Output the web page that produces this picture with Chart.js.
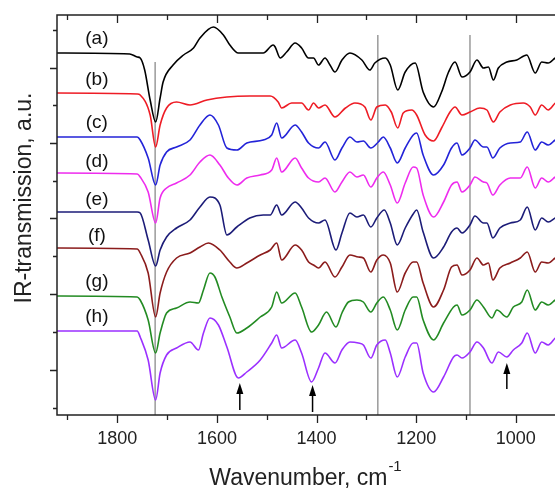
<!DOCTYPE html>
<html>
<head>
<meta charset="utf-8">
<script src="https://cdn.jsdelivr.net/npm/chart.js@4.4.1/dist/chart.umd.min.js"></script>
<style>
  html, body { margin: 0; padding: 0; background: #fff; }
  #wrap { width: 555px; height: 488px; overflow: hidden; }
</style>
</head>
<body>
<div id="wrap"><canvas id="irChart" width="600" height="488"></canvas></div>
<script>
// data (wavenumber cm-1, transmission a.u. incl. vertical offset)
const specA = [[1921,362],[1775,361],[1760,358],[1754,357],[1745,345],[1734,315],[1723,293],[1714,317],[1708,333],[1688,350],[1667,360],[1647,367],[1634,377],[1607,388],[1587,380],[1574,370],[1557,362],[1534,362],[1507,362],[1487,370],[1483,368],[1473,357],[1460,363],[1443,372],[1430,367],[1416,357],[1406,357],[1396,350],[1383,357],[1373,350],[1363,343],[1349,355],[1333,362],[1309,355],[1293,345],[1283,352],[1262,357],[1252,350],[1237,325],[1222,343],[1202,352],[1186,323],[1165,308],[1149,323],[1135,343],[1122,353],[1108,338],[1092,343],[1078,355],[1065,347],[1055,348],[1045,335],[1035,347],[1018,353],[998,355],[978,360],[961,342],[948,353],[935,352],[921,357]];
const specB = [[1921,322],[1760,321],[1754,320],[1734,300],[1723,268],[1714,290],[1701,307],[1681,313],[1654,310],[1620,315],[1580,318],[1534,319],[1493,319],[1477,313],[1470,307],[1450,312],[1430,312],[1416,305],[1406,312],[1396,307],[1383,310],[1363,298],[1342,307],[1323,312],[1303,308],[1291,295],[1279,308],[1262,310],[1250,303],[1237,287],[1226,302],[1209,305],[1199,300],[1182,280],[1165,274],[1149,287],[1132,303],[1122,308],[1108,300],[1092,303],[1072,307],[1058,305],[1045,293],[1032,303],[1011,310],[985,312],[971,308],[961,300],[948,310],[935,305],[921,312]];
const specC = [[1921,278],[1760,278],[1754,275],[1738,257],[1723,230],[1714,250],[1701,263],[1681,268],[1654,275],[1634,290],[1614,300],[1597,290],[1580,267],[1560,265],[1540,272],[1507,275],[1490,280],[1480,292],[1470,277],[1443,290],[1430,283],[1416,272],[1396,267],[1383,273],[1363,255],[1349,267],[1333,278],[1319,273],[1306,274],[1291,267],[1276,273],[1266,278],[1252,267],[1238,252],[1222,267],[1206,280],[1199,282],[1186,260],[1165,240],[1145,250],[1129,267],[1118,272],[1108,260],[1092,267],[1082,275],[1065,268],[1058,268],[1046,257],[1032,267],[1011,272],[991,273],[977,283],[961,265],[948,273],[935,270],[921,275]];
const specD = [[1921,242],[1760,241],[1754,238],[1738,223],[1723,192],[1714,217],[1701,227],[1681,232],[1654,240],[1634,253],[1614,260],[1594,250],[1577,237],[1560,230],[1540,237],[1513,240],[1490,245],[1480,257],[1470,243],[1443,257],[1430,247],[1416,237],[1396,233],[1383,237],[1363,223],[1349,233],[1333,243],[1319,238],[1306,240],[1291,228],[1279,237],[1266,243],[1252,230],[1238,212],[1222,232],[1206,248],[1199,247],[1186,220],[1165,198],[1145,213],[1129,230],[1118,233],[1108,223],[1092,230],[1082,238],[1065,233],[1058,232],[1046,220],[1032,230],[1011,237],[991,237],[977,248],[961,227],[948,237],[935,233],[921,238]];
const specE = [[1921,203],[1760,203],[1754,202],[1738,175],[1723,149],[1714,165],[1701,178],[1681,187],[1654,195],[1634,208],[1614,218],[1594,210],[1580,180],[1560,188],[1534,197],[1507,200],[1493,200],[1480,210],[1470,200],[1443,213],[1430,207],[1416,197],[1396,192],[1383,195],[1361,165],[1349,182],[1333,202],[1319,198],[1306,200],[1291,188],[1279,197],[1264,205],[1252,192],[1238,170],[1222,187],[1206,201],[1199,205],[1186,183],[1165,157],[1145,168],[1129,183],[1118,187],[1108,182],[1092,190],[1082,199],[1065,192],[1058,192],[1046,177],[1032,187],[1011,192],[991,195],[977,208],[961,185],[948,197],[935,193],[921,197]];
const specF = [[1921,167],[1760,166],[1754,162],[1738,142],[1723,98],[1714,122],[1701,143],[1681,157],[1654,162],[1634,168],[1617,172],[1594,165],[1574,153],[1560,147],[1540,152],[1513,160],[1493,165],[1480,172],[1470,155],[1443,170],[1430,165],[1416,153],[1406,150],[1396,147],[1383,153],[1363,138],[1349,148],[1333,160],[1316,158],[1306,157],[1291,143],[1279,155],[1266,160],[1252,152],[1238,123],[1222,142],[1206,153],[1199,153],[1186,132],[1165,108],[1145,125],[1129,148],[1118,150],[1108,140],[1092,145],[1078,157],[1065,150],[1055,152],[1046,135],[1032,147],[1011,152],[991,157],[977,163],[961,143],[948,153],[935,152],[921,157]];
const specG = [[1921,119],[1760,118],[1754,115],[1738,95],[1723,62],[1714,82],[1701,102],[1681,107],[1654,113],[1637,112],[1627,125],[1614,142],[1604,138],[1590,118],[1574,98],[1560,82],[1540,87],[1513,98],[1490,108],[1480,123],[1470,112],[1443,122],[1430,108],[1410,83],[1396,90],[1380,103],[1361,88],[1349,102],[1336,113],[1319,115],[1306,113],[1291,103],[1279,112],[1266,118],[1252,105],[1238,85],[1222,105],[1206,118],[1199,118],[1186,95],[1165,75],[1145,92],[1125,108],[1118,110],[1108,100],[1092,105],[1078,115],[1065,108],[1048,97],[1038,105],[1018,98],[1005,108],[988,113],[977,125],[961,105],[948,113],[935,110],[921,115]];
const specH = [[1921,84],[1760,84],[1754,78],[1738,55],[1723,15],[1714,42],[1701,60],[1681,67],[1654,73],[1637,65],[1627,82],[1614,97],[1597,90],[1580,68],[1557,37],[1540,43],[1513,55],[1490,72],[1480,80],[1470,67],[1443,75],[1430,62],[1410,33],[1396,47],[1383,62],[1363,52],[1349,65],[1333,73],[1316,72],[1306,70],[1291,57],[1279,70],[1262,75],[1252,62],[1238,38],[1222,58],[1206,72],[1199,72],[1186,42],[1165,23],[1145,38],[1125,58],[1118,60],[1108,57],[1092,63],[1078,73],[1065,67],[1048,52],[1035,63],[1018,58],[1005,65],[988,72],[977,82],[961,62],[948,73],[935,70],[921,77]];

const seriesNames = ['(a)', '(b)', '(c)', '(d)', '(e)', '(f)', '(g)', '(h)'];
const seriesColors = ['#000000', '#ee1c25', '#2323d8', '#ee2cee', '#1c1c78', '#8b1c1c', '#238b23', '#9b30ff'];
const labelY = [376, 335, 292, 253, 215, 179, 133, 98];
const labelX = 1841;

// reference lines: wavenumber, top value
const refLineX = [1724, 1277, 1092];
const refLineTop = [353, 380, 380];

// arrows: wavenumber, tip, tail
const arrowX = [1554, 1408, 1018];
const arrowTip = [32, 30, 52];
const arrowTail = [5, 3, 26];

const majorTicks = [1800, 1600, 1400, 1200, 1000];
const minorTicks = [1900, 1700, 1500, 1300, 1100, 900];
const yTicks = [7, 45, 83, 121, 159, 197, 234, 272, 310, 347, 385];

const spectra = [specA, specB, specC, specD, specE, specF, specG, specH];

const datasets = spectra.map(function (s, i) {
    return {
        label: seriesNames[i],
        data: s.map(p => ({ x: p[0], y: p[1] })),
        borderColor: seriesColors[i],
        borderWidth: 1.6,
        pointRadius: 0,
        cubicInterpolationMode: 'monotone',
        fill: false
    };
});

refLineX.forEach(function (x, i) {
    datasets.push({
        label: 'ref' + i,
        data: [{ x: x, y: 0 }, { x: x, y: refLineTop[i] }],
        borderColor: '#9a9a9a',
        borderWidth: 1.5,
        pointRadius: 0
    });
});

const FONT = '"Liberation Sans", Arial, sans-serif';

// frame, ticks, labels, arrows, titles
const overlay = {
    id: 'overlay',
    afterDraw(chart) {
        const ctx = chart.ctx;
        const xs = chart.scales.x;
        const ys = chart.scales.y;
        const a = chart.chartArea;
        ctx.save();

        // frame
        ctx.strokeStyle = '#222';
        ctx.lineWidth = 1.5;
        ctx.beginPath();
        ctx.moveTo(a.right + 5, a.top);
        ctx.lineTo(a.left, a.top);
        ctx.lineTo(a.left, a.bottom);
        ctx.lineTo(a.right + 5, a.bottom);
        ctx.stroke();

        // x ticks, bottom outward, top inward
        ctx.lineWidth = 1.3;
        ctx.beginPath();
        majorTicks.forEach(function (t) {
            const px = Math.round(xs.getPixelForValue(t)) + 0.5;
            ctx.moveTo(px, a.bottom); ctx.lineTo(px, a.bottom + 8);
            ctx.moveTo(px, a.top); ctx.lineTo(px, a.top + 8);
        });
        minorTicks.forEach(function (t) {
            const px = Math.round(xs.getPixelForValue(t)) + 0.5;
            ctx.moveTo(px, a.bottom); ctx.lineTo(px, a.bottom + 5);
            ctx.moveTo(px, a.top); ctx.lineTo(px, a.top + 5);
        });
        // y ticks outward
        yTicks.forEach(function (t, i) {
            const py = Math.round(ys.getPixelForValue(t)) + 0.5;
            ctx.moveTo(a.left, py); ctx.lineTo(a.left - (i % 2 ? 7 : 4), py);
        });
        ctx.stroke();

        // curve labels
        ctx.fillStyle = '#111';
        ctx.font = '19px ' + FONT;
        ctx.textAlign = 'center';
        ctx.textBaseline = 'middle';
        seriesNames.forEach(function (n, i) {
            ctx.fillText(n, xs.getPixelForValue(labelX), ys.getPixelForValue(labelY[i]));
        });

        // arrows
        ctx.strokeStyle = '#000';
        ctx.fillStyle = '#000';
        ctx.lineWidth = 1.5;
        arrowX.forEach(function (w, i) {
            const px = xs.getPixelForValue(w);
            const tip = ys.getPixelForValue(arrowTip[i]);
            const tail = ys.getPixelForValue(arrowTail[i]);
            ctx.beginPath();
            ctx.moveTo(px, tail);
            ctx.lineTo(px, tip + 8);
            ctx.stroke();
            ctx.beginPath();
            ctx.moveTo(px, tip);
            ctx.lineTo(px - 3.5, tip + 11);
            ctx.lineTo(px + 3.5, tip + 11);
            ctx.closePath();
            ctx.fill();
        });

        // axis titles
        ctx.fillStyle = '#222';
        ctx.font = '23px ' + FONT;
        ctx.textAlign = 'left';
        ctx.textBaseline = 'alphabetic';
        const main = 'Wavenumber, cm';
        const w1 = ctx.measureText(main).width;
        ctx.font = '15px ' + FONT;
        const w2 = ctx.measureText('-1').width;
        const x0 = 305 - (w1 + w2) / 2;
        ctx.font = '23px ' + FONT;
        ctx.fillText(main, x0, 485);
        ctx.font = '15px ' + FONT;
        ctx.fillText('-1', x0 + w1 + 1, 471);

        ctx.translate(25, 198);
        ctx.rotate(-Math.PI / 2);
        ctx.font = '23px ' + FONT;
        ctx.textAlign = 'center';
        ctx.textBaseline = 'middle';
        ctx.fillText('IR-transmission, a.u.', 0, 0);
        ctx.restore();
    }
};

const ctx = document.getElementById('irChart').getContext('2d');

new Chart(ctx, {
    type: 'line',
    data: { datasets: datasets },
    options: {
        responsive: false,
        animation: false,
        layout: { padding: { left: 57, top: 15, right: 2, bottom: 0 } },
        plugins: {
            legend: { display: false },
            tooltip: { enabled: false }
        },
        scales: {
            x: {
                type: 'linear',
                reverse: true,
                min: 835,
                max: 1921,
                afterBuildTicks: function (scale) {
                    scale.ticks = majorTicks.map(v => ({ value: v }));
                },
                afterFit: function (scale) { scale.height = 73; },
                grid: { display: false, drawTicks: false },
                border: { display: false },
                ticks: {
                    color: '#222',
                    padding: 13,
                    maxRotation: 0,
                    font: { size: 18, family: FONT },
                    callback: function (v) { return String(v); }
                }
            },
            y: {
                display: false,
                min: 0,
                max: 400
            }
        }
    },
    plugins: [overlay]
});
</script>
</body>
</html>
